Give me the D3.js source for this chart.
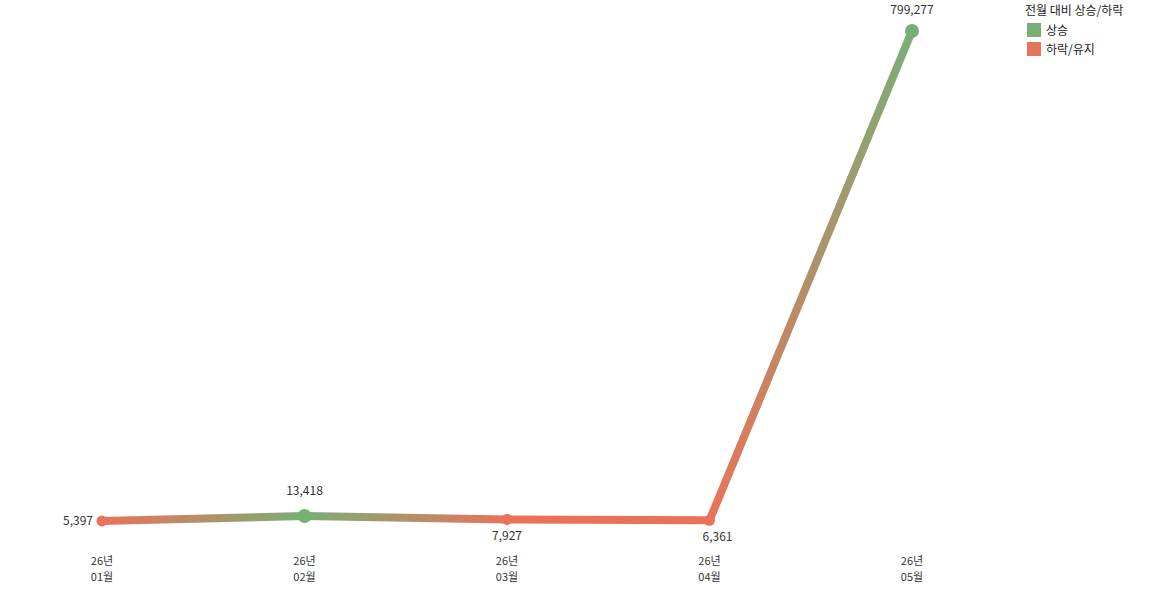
<!DOCTYPE html>
<html><head><meta charset="utf-8">
<script src="https://cdn.jsdelivr.net/npm/d3@7"></script>
<style>
body{margin:0;background:#fff;}
text{font-family:"Noto Sans CJK KR","Noto Sans",sans-serif;}
</style></head>
<body><svg id="c" width="1164" height="594"></svg>
<script>
const years = ["26년","26년","26년","26년","26년"];
const months = ["01월","02월","03월","04월","05월"];
const values = [5397, 13418, 7927, 6361, 799277];
const trend = ["down","up","down","down","up"];
const legendTitle = "전월 대비 상승/하락";
const legendLabels = ["상승","하락/유지"];

const green = "#7aae77", red = "#e8735a";
const colorOf = t => t === "up" ? green : red;
const svg = d3.select("#c");
const x = d3.scalePoint().domain(d3.range(values.length)).range([102, 912]);
const y = d3.scaleLinear().domain([0, d3.max(values)]).range([524.3, 31]);
const defs = svg.append("defs");
const g = svg.append("g");

for (let i = 0; i < values.length - 1; i++) {
  const id = "grad" + i;
  const gr = defs.append("linearGradient").attr("id", id).attr("gradientUnits", "userSpaceOnUse")
    .attr("x1", x(i)).attr("y1", y(values[i])).attr("x2", x(i+1)).attr("y2", y(values[i+1]));
  gr.append("stop").attr("offset", "0%").attr("stop-color", colorOf(trend[i]));
  gr.append("stop").attr("offset", "100%").attr("stop-color", colorOf(trend[i+1]));
  g.append("line").attr("x1", x(i)).attr("y1", y(values[i])).attr("x2", x(i+1)).attr("y2", y(values[i+1]))
    .attr("stroke", `url(#${id})`).attr("stroke-width", 8).attr("stroke-linecap", "round");
}
g.selectAll("circle").data(values).join("circle")
  .attr("cx", (d,i) => x(i)).attr("cy", d => y(d))
  .attr("r", (d,i) => trend[i] === "up" ? 7 : 5.5)
  .attr("fill", (d,i) => colorOf(trend[i]));

// value labels
const fmt = d3.format(",");
g.selectAll("text.val").data(values).join("text").attr("class","val")
  .attr("x", (d,i) => i === 0 ? x(i) - 9 : (i === 3 ? x(i) + 8 : x(i)))
  .attr("y", (d,i) => i === 0 ? y(d) + 4 : (trend[i] === "up" ? y(d) - (i === 4 ? 17 : 21) : y(d) + 21))
  .attr("text-anchor", (d,i) => i === 0 ? "end" : "middle")
  .attr("font-size", 12).attr("fill", "#333").text(d => fmt(d));

// x axis labels
const ax = g.selectAll("g.tick").data(months).join("g").attr("class","tick")
  .attr("transform", (d,i) => `translate(${x(i)},0)`);
ax.append("text").attr("y", 565).attr("text-anchor","middle").attr("font-size",11).attr("fill","#333").text((d,i)=>years[i]);
ax.append("text").attr("y", 581).attr("text-anchor","middle").attr("font-size",11).attr("fill","#333").text(d=>d);

// legend
const lg = svg.append("g");
lg.append("text").attr("x", 1025).attr("y", 15).attr("font-size", 12).attr("fill", "#222").text(legendTitle);
const li = lg.selectAll("g.li").data(legendLabels).join("g").attr("class","li")
  .attr("transform", (d,i) => `translate(1027,${23 + i*19})`);
li.append("rect").attr("width", 14).attr("height", 14).attr("fill", (d,i) => i === 0 ? green : red);
li.append("text").attr("x", 19).attr("y", 11.5).attr("font-size", 12).attr("fill", "#222").text(d => d);
</script></body></html>
